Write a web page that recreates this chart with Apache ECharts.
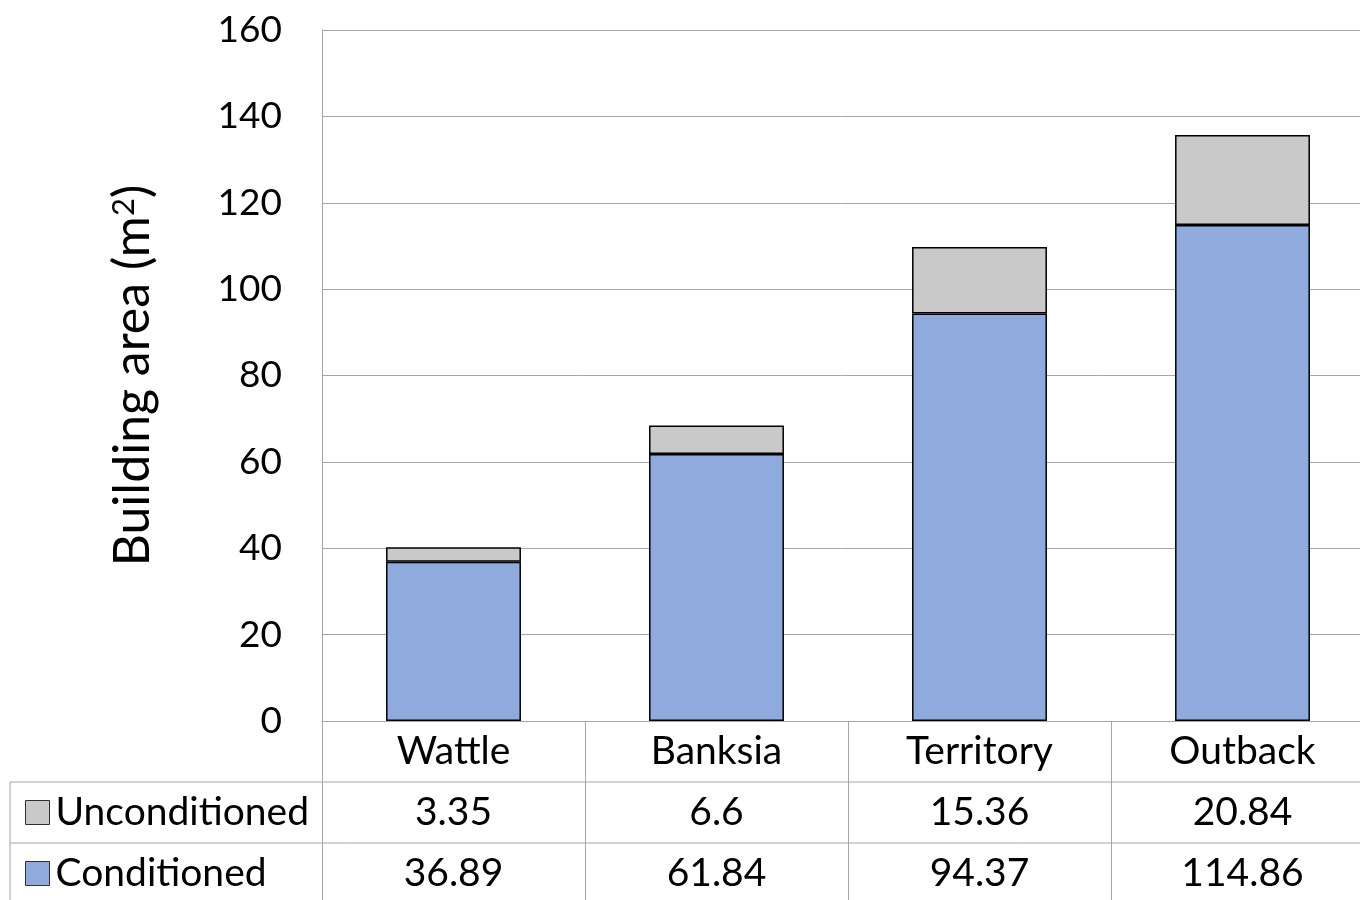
<!DOCTYPE html>
<html>
<head>
<meta charset="utf-8">
<script src="https://cdn.jsdelivr.net/npm/echarts@6/dist/echarts.min.js"></script>
<style>
  html, body { margin: 0; padding: 0; background: #fff; }
  #chart { width: 1360px; height: 900px; }
</style>
</head>
<body>
<div id="chart"></div>
<script>
// Building floor areas per house design (m²)
const categories = ['Wattle', 'Banksia', 'Territory', 'Outback'];
const conditioned = [36.89, 61.84, 94.37, 114.86];
const unconditioned = [3.35, 6.6, 15.36, 20.84];
const yTicks = { min: 0, max: 160, interval: 20 };

const FONT = 'Lato';
const GRID_GRAY = '#a6a6a6';
const ROW_H = 61;
const TABLE_FS = 39;

const chart = echarts.init(document.getElementById('chart'));

const gridLeft = 322, gridTop = 30, gridW = 1052, gridH = 691;
const axisY = gridTop + gridH;

// one legend per table row so each key sits in its own row
function rowLegend(name, row) {
  return {
    orient: 'vertical',
    left: 20,
    top: axisY + ROW_H * row + ROW_H / 2 - 27,
    itemWidth: 24,
    itemHeight: 24,
    icon: 'rect',
    data: [name],
    itemStyle: { borderWidth: 1, borderColor: '#303030' },
    textStyle: { fontFamily: FONT, fontSize: TABLE_FS, color: '#000', lineHeight: 44, padding: [0, 0, 0, 1] }
  };
}

chart.setOption({
  animation: false,
  textStyle: { fontFamily: FONT },
  grid: { left: gridLeft, top: gridTop, width: gridW, height: gridH, containLabel: false, outerBoundsMode: 'none' },
  legend: [rowLegend('Unconditioned', 1), rowLegend('Conditioned', 2)],
  xAxis: {
    type: 'category',
    data: categories,
    axisLine: { show: true, lineStyle: { color: GRID_GRAY, width: 1 } },
    axisTick: { show: true, interval: 0, length: 200, lineStyle: { color: GRID_GRAY, width: 1 } },
    axisLabel: {
      interval: 0,
      margin: 0,
      formatter: function (value, idx) {
        return '{r|' + value + '}\n{r|' + unconditioned[idx] + '}\n{r|' + conditioned[idx] + '}';
      },
      rich: {
        r: { fontFamily: FONT, fontSize: TABLE_FS, color: '#000', lineHeight: ROW_H, height: ROW_H, verticalAlign: 'middle' }
      }
    }
  },
  yAxis: {
    type: 'value',
    min: yTicks.min,
    max: yTicks.max,
    interval: yTicks.interval,
    name: 'Building area (m{sup|2})',
    nameLocation: 'middle',
    nameGap: 164,
    nameRotate: 90,
    nameTextStyle: {
      fontFamily: FONT, fontSize: 50, color: '#000',
      rich: { sup: { fontFamily: FONT, fontSize: 31, color: '#000', verticalAlign: 'top', lineHeight: 50, padding: [0, 0, 14, 0] } }
    },
    axisLine: { show: true, lineStyle: { color: GRID_GRAY, width: 1 } },
    axisTick: { show: false },
    axisLabel: { fontFamily: FONT, fontSize: 37, color: '#000', margin: 40 },
    splitLine: { show: true, lineStyle: { color: GRID_GRAY, width: 1 } }
  },
  series: [
    {
      name: 'Conditioned',
      type: 'bar',
      stack: 'area',
      barWidth: '51.3%',
      data: conditioned,
      itemStyle: { color: '#8faadc', borderColor: '#000', borderWidth: 1.5 }
    },
    {
      name: 'Unconditioned',
      type: 'bar',
      stack: 'area',
      barWidth: '51.3%',
      data: unconditioned,
      itemStyle: { color: '#c9c9c9', borderColor: '#000', borderWidth: 1.5 }
    }
  ],
  graphic: [
    // data table row separators and left edge of the legend column
    { type: 'line', silent: true, shape: { x1: 10, y1: axisY + ROW_H, x2: 1360, y2: axisY + ROW_H }, style: { stroke: GRID_GRAY, lineWidth: 1 } },
    { type: 'line', silent: true, shape: { x1: 10, y1: axisY + 2 * ROW_H, x2: 1360, y2: axisY + 2 * ROW_H }, style: { stroke: GRID_GRAY, lineWidth: 1 } },
    { type: 'line', silent: true, shape: { x1: 10, y1: axisY + ROW_H, x2: 10, y2: 900 }, style: { stroke: GRID_GRAY, lineWidth: 1 } }
  ]
});
</script>
</body>
</html>
